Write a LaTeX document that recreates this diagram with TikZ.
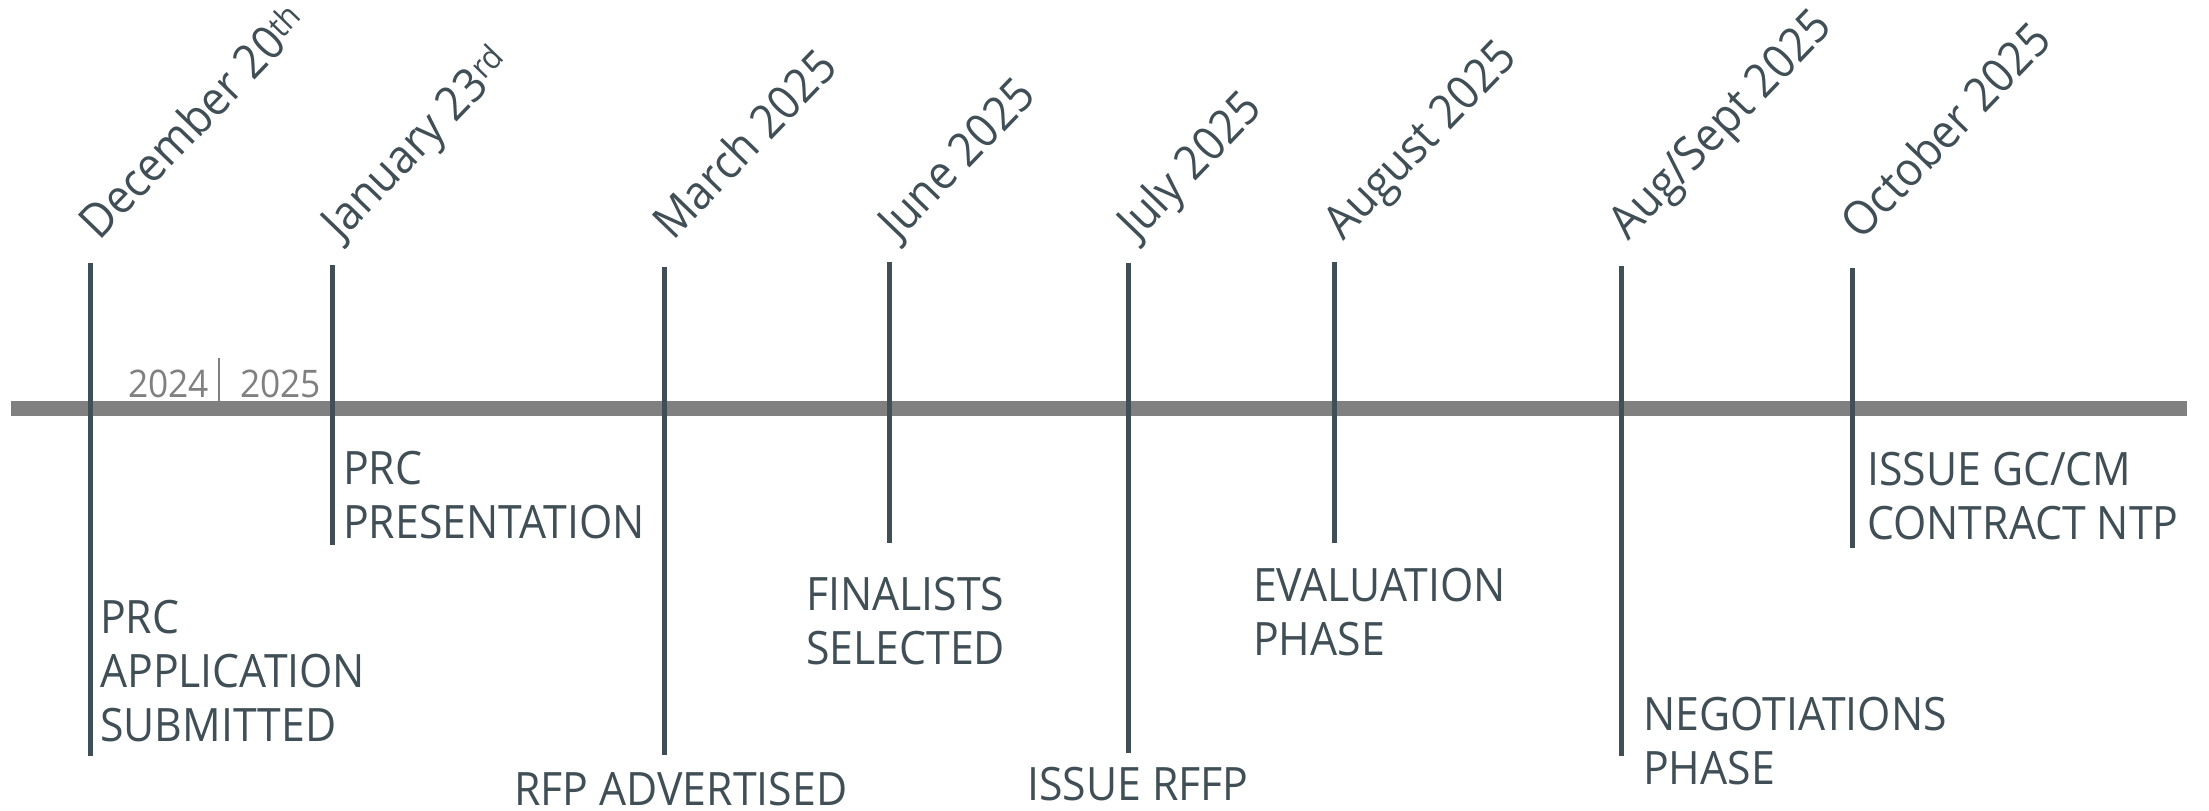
\documentclass[tikz,border=0pt]{standalone}
\usepackage{fontspec}
\setmainfont[FakeStretch=0.93]{Open Sans}
\usepackage{tikz}

\definecolor{slate}{RGB}{64,78,86}
\definecolor{bargray}{RGB}{128,128,128}

\tikzset{
  milestone/.style={line width=5pt, draw=slate},
  event/.style={font=\fontsize{46}{54}\selectfont, text=slate, align=left, inner sep=0pt, anchor=north west},
  when/.style={font=\fontsize{47}{55}\selectfont, text=slate, inner sep=0pt, anchor=base west, rotate=46},
  yr/.style={font=\fontsize{38}{44}\selectfont, text=bargray, inner sep=0pt, anchor=base west}
}

\begin{document}
\begin{tikzpicture}[x=1pt,y=-1pt]
\useasboundingbox (0,0) rectangle (2209,811);

% timeline bar
\coordinate (bar-l) at (11,408.5);
\coordinate (bar-r) at (2187,408.5);
\draw[line width=15pt, bargray] (bar-l) -- (bar-r);

% year change
\node[yr] (y24) at (128,397) {2024};
\node[yr] (y25) at (240,397) {2025};
\coordinate (sep-t) at (219,358);
\coordinate (sep-b) at (219,401);
\draw[bargray, line width=2pt] (sep-t) -- (sep-b);

% milestone lines
\coordinate (dec-t) at (90,263);   \coordinate (dec-b) at (90,756);
\coordinate (jan-t) at (332,265);  \coordinate (jan-b) at (332,545);
\coordinate (mar-t) at (664,267);  \coordinate (mar-b) at (664,755);
\coordinate (jun-t) at (889,262);  \coordinate (jun-b) at (889,543);
\coordinate (jul-t) at (1128,263); \coordinate (jul-b) at (1128,753);
\coordinate (aug-t) at (1334,262); \coordinate (aug-b) at (1334,543);
\coordinate (sep-t2) at (1621,266); \coordinate (sep-b2) at (1621,756);
\coordinate (oct-t) at (1852,268); \coordinate (oct-b) at (1852,548);
\path[milestone]
(dec-t) edge (dec-b) (jan-t) edge (jan-b) (mar-t) edge (mar-b) (jun-t) edge (jun-b)
(jul-t) edge (jul-b) (aug-t) edge (aug-b) (sep-t2) edge (sep-b2) (oct-t) edge (oct-b);

% dates
\node[when] (d-dec) at (99,242) {December 20\textsuperscript{th}};
\node[when] (d-jan) at (341,242) {January 23\textsuperscript{rd}};
\node[when] (d-mar) at (673,242) {March 2025};
\node[when] (d-jun) at (898,242) {June 2025};
\node[when] (d-jul) at (1137,242) {July 2025};
\node[when] (d-aug) at (1343,242) {August 2025};
\node[when] (d-neg) at (1628,242) {Aug/Sept 2025};
\node[when] (d-oct) at (1861,242) {October 2025};

% events
\node[event] (e-sub) at (100,600) {PRC\\APPLICATION\\SUBMITTED};
\node[event] (e-pres) at (343,451) {PRC\\PRESENTATION};
\node[event] (e-adv) at (514,772) {RFP ADVERTISED};
\node[event] (e-fin) at (806,577) {FINALISTS\\SELECTED};
\node[event] (e-rffp) at (1027,767) {ISSUE RFFP};
\node[event] (e-eval) at (1253,568) {EVALUATION\\PHASE};
\node[event] (e-neg) at (1643,697) {NEGOTIATIONS\\PHASE};
\node[event] (e-ntp) at (1867,452) {ISSUE GC/CM\\CONTRACT NTP};
\end{tikzpicture}
\end{document}
